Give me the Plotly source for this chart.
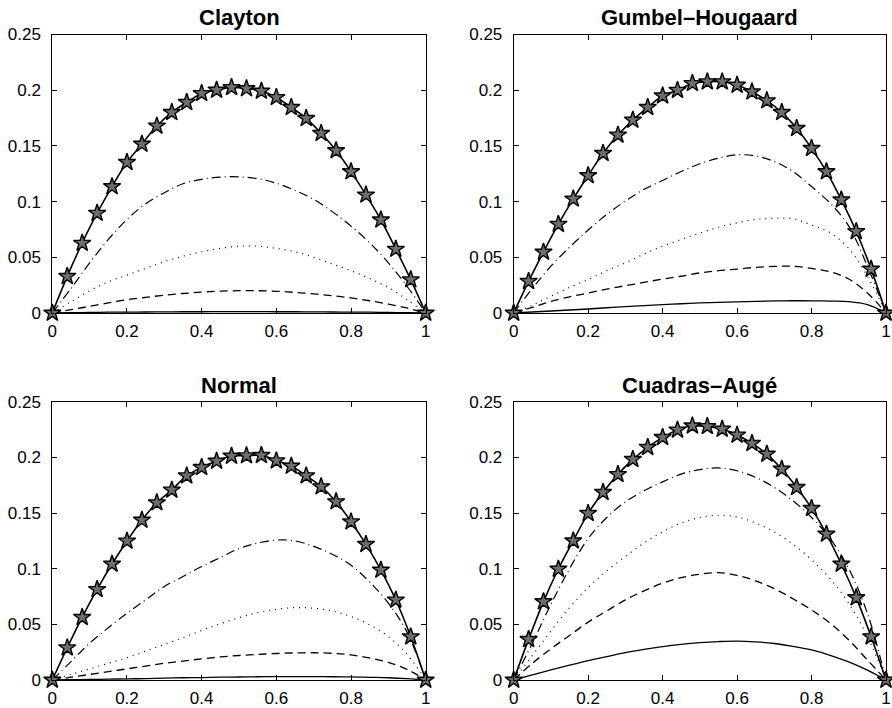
import plotly.graph_objects as go

# ---------------- data ----------------
X_STAR = [0.00, 0.04, 0.08, 0.12, 0.16, 0.20, 0.24, 0.28, 0.32, 0.36, 0.40, 0.44, 0.48,
          0.52, 0.56, 0.60, 0.64, 0.68, 0.72, 0.76, 0.80, 0.84, 0.88, 0.92, 0.96, 1.00]
X_CURVE = [0.00, 0.05, 0.10, 0.15, 0.20, 0.25, 0.30, 0.35, 0.40, 0.45, 0.50,
           0.55, 0.60, 0.65, 0.70, 0.75, 0.80, 0.85, 0.90, 0.95, 1.00]

TITLES = ["Clayton", "Gumbel\u2013Hougaard", "Normal", "Cuadras\u2013Aug\u00e9"]

clayton_star = [0, 0.0329, 0.0627, 0.0896, 0.1135, 0.1353, 0.1517, 0.1679, 0.1801, 0.1891, 0.1971, 0.2001, 0.2025,
                0.2015, 0.1992, 0.1935, 0.1846, 0.1747, 0.1613, 0.1458, 0.1269, 0.1060, 0.0836, 0.0573, 0.0299, 0]
clayton_dashdot = [0, 0.022, 0.045, 0.066, 0.084, 0.098, 0.108, 0.116, 0.120, 0.122, 0.1222,
                   0.1205, 0.1165, 0.110, 0.102, 0.091, 0.078, 0.063, 0.045, 0.024, 0]
clayton_dotted = [0, 0.010, 0.020, 0.028, 0.034, 0.040, 0.046, 0.051, 0.055, 0.058, 0.060,
                  0.060, 0.058, 0.055, 0.050, 0.044, 0.038, 0.031, 0.023, 0.012, 0]
clayton_dashed = [0, 0.003, 0.006, 0.009, 0.012, 0.014, 0.016, 0.0175, 0.0188, 0.0196, 0.020,
                  0.020, 0.0195, 0.0185, 0.0172, 0.0155, 0.0135, 0.011, 0.008, 0.0045, 0]
clayton_solid = [0, 0.0003, 0.0005, 0.0007, 0.0008, 0.0009, 0.001, 0.0011, 0.0011, 0.0012, 0.0012,
                 0.0012, 0.0011, 0.0011, 0.001, 0.0009, 0.0008, 0.0007, 0.0005, 0.0003, 0]

gumbel_star = [0, 0.0284, 0.0547, 0.0797, 0.1024, 0.1234, 0.1434, 0.1598, 0.1732, 0.1846, 0.1950, 0.2000, 0.2061,
               0.2076, 0.2076, 0.2046, 0.1986, 0.1906, 0.1801, 0.1658, 0.1478, 0.1269, 0.1016, 0.0732, 0.0394, 0]
gumbel_dashdot = [0, 0.022, 0.042, 0.059, 0.0745, 0.0885, 0.1005, 0.111, 0.119, 0.127, 0.134,
                  0.139, 0.142, 0.141, 0.136, 0.127, 0.1135, 0.0986, 0.078, 0.042, 0]
gumbel_dotted = [0, 0.007, 0.015, 0.023, 0.030, 0.038, 0.045, 0.053, 0.060, 0.066, 0.0717,
                 0.077, 0.081, 0.084, 0.085, 0.0845, 0.079, 0.072, 0.058, 0.033, 0]
gumbel_dashed = [0, 0.005, 0.0105, 0.0145, 0.018, 0.0215, 0.0245, 0.0275, 0.0305, 0.033, 0.036,
                 0.038, 0.0394, 0.041, 0.0418, 0.042, 0.040, 0.037, 0.0305, 0.018, 0]
gumbel_solid = [0, 0.0009, 0.0018, 0.0027, 0.0036, 0.0047, 0.0057, 0.0067, 0.0075, 0.0083, 0.009,
                0.0095, 0.0099, 0.0104, 0.0108, 0.011, 0.0109, 0.0107, 0.0102, 0.0075, 0]

normal_star = [0, 0.029, 0.0563, 0.0814, 0.1042, 0.1249, 0.1437, 0.1593, 0.1707, 0.1835, 0.1910, 0.1967, 0.2012,
               0.2015, 0.2018, 0.1970, 0.1922, 0.1835, 0.1737, 0.1602, 0.1422, 0.1219, 0.0988, 0.0719, 0.0389, 0]
normal_dashdot = [0, 0.0165, 0.033, 0.047, 0.060, 0.072, 0.084, 0.093, 0.102, 0.110, 0.118,
                  0.123, 0.1257, 0.125, 0.120, 0.113, 0.103, 0.088, 0.069, 0.043, 0]
normal_dotted = [0, 0.005, 0.010, 0.015, 0.020, 0.026, 0.032, 0.038, 0.0445, 0.0505, 0.056,
                 0.0605, 0.0635, 0.065, 0.0645, 0.062, 0.057, 0.0495, 0.039, 0.023, 0]
normal_dashed = [0, 0.0025, 0.005, 0.0075, 0.010, 0.0125, 0.015, 0.017, 0.019, 0.0207, 0.022,
                 0.023, 0.0238, 0.0243, 0.0245, 0.024, 0.0225, 0.0198, 0.0158, 0.0095, 0]
normal_solid = [0, 0.0003, 0.0005, 0.0008, 0.001, 0.0013, 0.0017, 0.002, 0.0022, 0.0025, 0.0027,
                0.0029, 0.003, 0.003, 0.003, 0.0029, 0.0028, 0.0024, 0.002, 0.0012, 0]

cuadras_star = [0, 0.0365, 0.0704, 0.0997, 0.1251, 0.1497, 0.1686, 0.1847, 0.1982, 0.2090, 0.2180, 0.2246, 0.2284,
                0.2278, 0.2254, 0.2201, 0.2126, 0.2030, 0.1895, 0.1731, 0.1542, 0.1311, 0.1042, 0.0740, 0.0389, 0]
cuadras_dashdot = [0, 0.033, 0.068, 0.100, 0.127, 0.146, 0.160, 0.170, 0.178, 0.185, 0.189,
                   0.1905, 0.188, 0.182, 0.173, 0.161, 0.146, 0.127, 0.100, 0.060, 0]
cuadras_dotted = [0, 0.022, 0.044, 0.065, 0.083, 0.098, 0.111, 0.123, 0.133, 0.141, 0.146,
                  0.148, 0.1465, 0.141, 0.133, 0.122, 0.108, 0.091, 0.069, 0.039, 0]
cuadras_dashed = [0, 0.015, 0.028, 0.040, 0.052, 0.062, 0.072, 0.080, 0.087, 0.092, 0.095,
                  0.0965, 0.094, 0.089, 0.082, 0.073, 0.063, 0.051, 0.036, 0.018, 0]
cuadras_solid = [0, 0.0045, 0.009, 0.0133, 0.0174, 0.021, 0.0246, 0.0275, 0.030, 0.032, 0.0335,
                 0.0345, 0.035, 0.0343, 0.0328, 0.0303, 0.027, 0.0222, 0.0162, 0.0088, 0]

X_TICKS = [0, 0.2, 0.4, 0.6, 0.8, 1]
X_TICK_LABELS = ["0", "0.2", "0.4", "0.6", "0.8", "1"]
Y_TICKS = [0, 0.05, 0.1, 0.15, 0.2, 0.25]
Y_TICK_LABELS = ["0", "0.05", "0.1", "0.15", "0.2", "0.25"]

PANELS = [
    (clayton_star, clayton_dashdot, clayton_dotted, clayton_dashed, clayton_solid),
    (gumbel_star, gumbel_dashdot, gumbel_dotted, gumbel_dashed, gumbel_solid),
    (normal_star, normal_dashdot, normal_dotted, normal_dashed, normal_solid),
    (cuadras_star, cuadras_dashdot, cuadras_dotted, cuadras_dashed, cuadras_solid),
]

# ---------------- layout geometry ----------------
W, H = 892, 708
X_DOMAINS = [[52.3 / W, 425.7 / W], [513.7 / W, 886.0 / W]]
Y_DOMAINS = [[1 - 313 / H, 1 - 34.5 / H], [1 - 680 / H, 1 - 401.7 / H]]

FONT = "Liberation Sans, Arial, Helvetica, sans-serif"

fig = go.Figure()
layout_axes = {}
annotations = []

for i, (star, dd, dot, dash, sol) in enumerate(PANELS):
    row, col = divmod(i, 2)
    n = i + 1
    xa = "x" if n == 1 else f"x{n}"
    ya = "y" if n == 1 else f"y{n}"
    common = dict(xaxis=xa, yaxis=ya, mode="lines", showlegend=False,
                  hoverinfo="skip")
    fig.add_trace(go.Scatter(x=X_CURVE, y=sol, line=dict(color="black", width=1.3, shape="spline"), **common))
    fig.add_trace(go.Scatter(x=X_CURVE, y=dash, line=dict(color="black", width=1.3, dash="8px,5px", shape="spline"), **common))
    fig.add_trace(go.Scatter(x=X_CURVE, y=dot, line=dict(color="black", width=1.2, dash="1px,5px", shape="spline"), **common))
    fig.add_trace(go.Scatter(x=X_CURVE, y=dd, line=dict(color="black", width=1.2, dash="9px,4px,1px,4px", shape="spline"), **common))
    fig.add_trace(go.Scatter(x=X_STAR, y=star, xaxis=xa, yaxis=ya, mode="lines+markers",
                             showlegend=False, hoverinfo="skip", cliponaxis=False,
                             line=dict(color="black", width=1.6, shape="spline"),
                             marker=dict(symbol="star", size=13, color="#6e6e6e",
                                         line=dict(color="black", width=1.4))))

    axkey = "xaxis" if n == 1 else f"xaxis{n}"
    aykey = "yaxis" if n == 1 else f"yaxis{n}"
    axis_style = dict(showline=True, linecolor="black", linewidth=1, mirror="ticks",
                      ticks="inside", ticklen=5, tickcolor="black", tickwidth=1,
                      showgrid=False, zeroline=False, automargin=False,
                      tickfont=dict(family=FONT, size=17, color="black"))
    layout_axes[axkey] = dict(domain=X_DOMAINS[col], range=[0, 1], anchor=ya,
                              tickvals=X_TICKS, ticktext=X_TICK_LABELS,
                              ticklabelstandoff=3, **axis_style)
    layout_axes[aykey] = dict(domain=Y_DOMAINS[row], range=[0, 0.25], anchor=xa,
                              tickvals=Y_TICKS, ticktext=Y_TICK_LABELS,
                              ticklabelstandoff=7, **axis_style)
    annotations.append(dict(text=f"<b>{TITLES[i]}</b>", xref="paper", yref="paper",
                            x=sum(X_DOMAINS[col]) / 2, y=Y_DOMAINS[row][1],
                            xanchor="center", yanchor="bottom", yshift=2, showarrow=False,
                            font=dict(family=FONT, size=22, color="black")))

fig.update_layout(width=W, height=H, margin=dict(l=0, r=0, t=0, b=0),
                  paper_bgcolor="white", plot_bgcolor="white",
                  annotations=annotations, **layout_axes)

fig.write_html("out.html", config={"displayModeBar": False},
               post_script="document.body.style.margin='0';document.body.style.padding='0';"
                           "document.body.style.overflow='hidden';")
